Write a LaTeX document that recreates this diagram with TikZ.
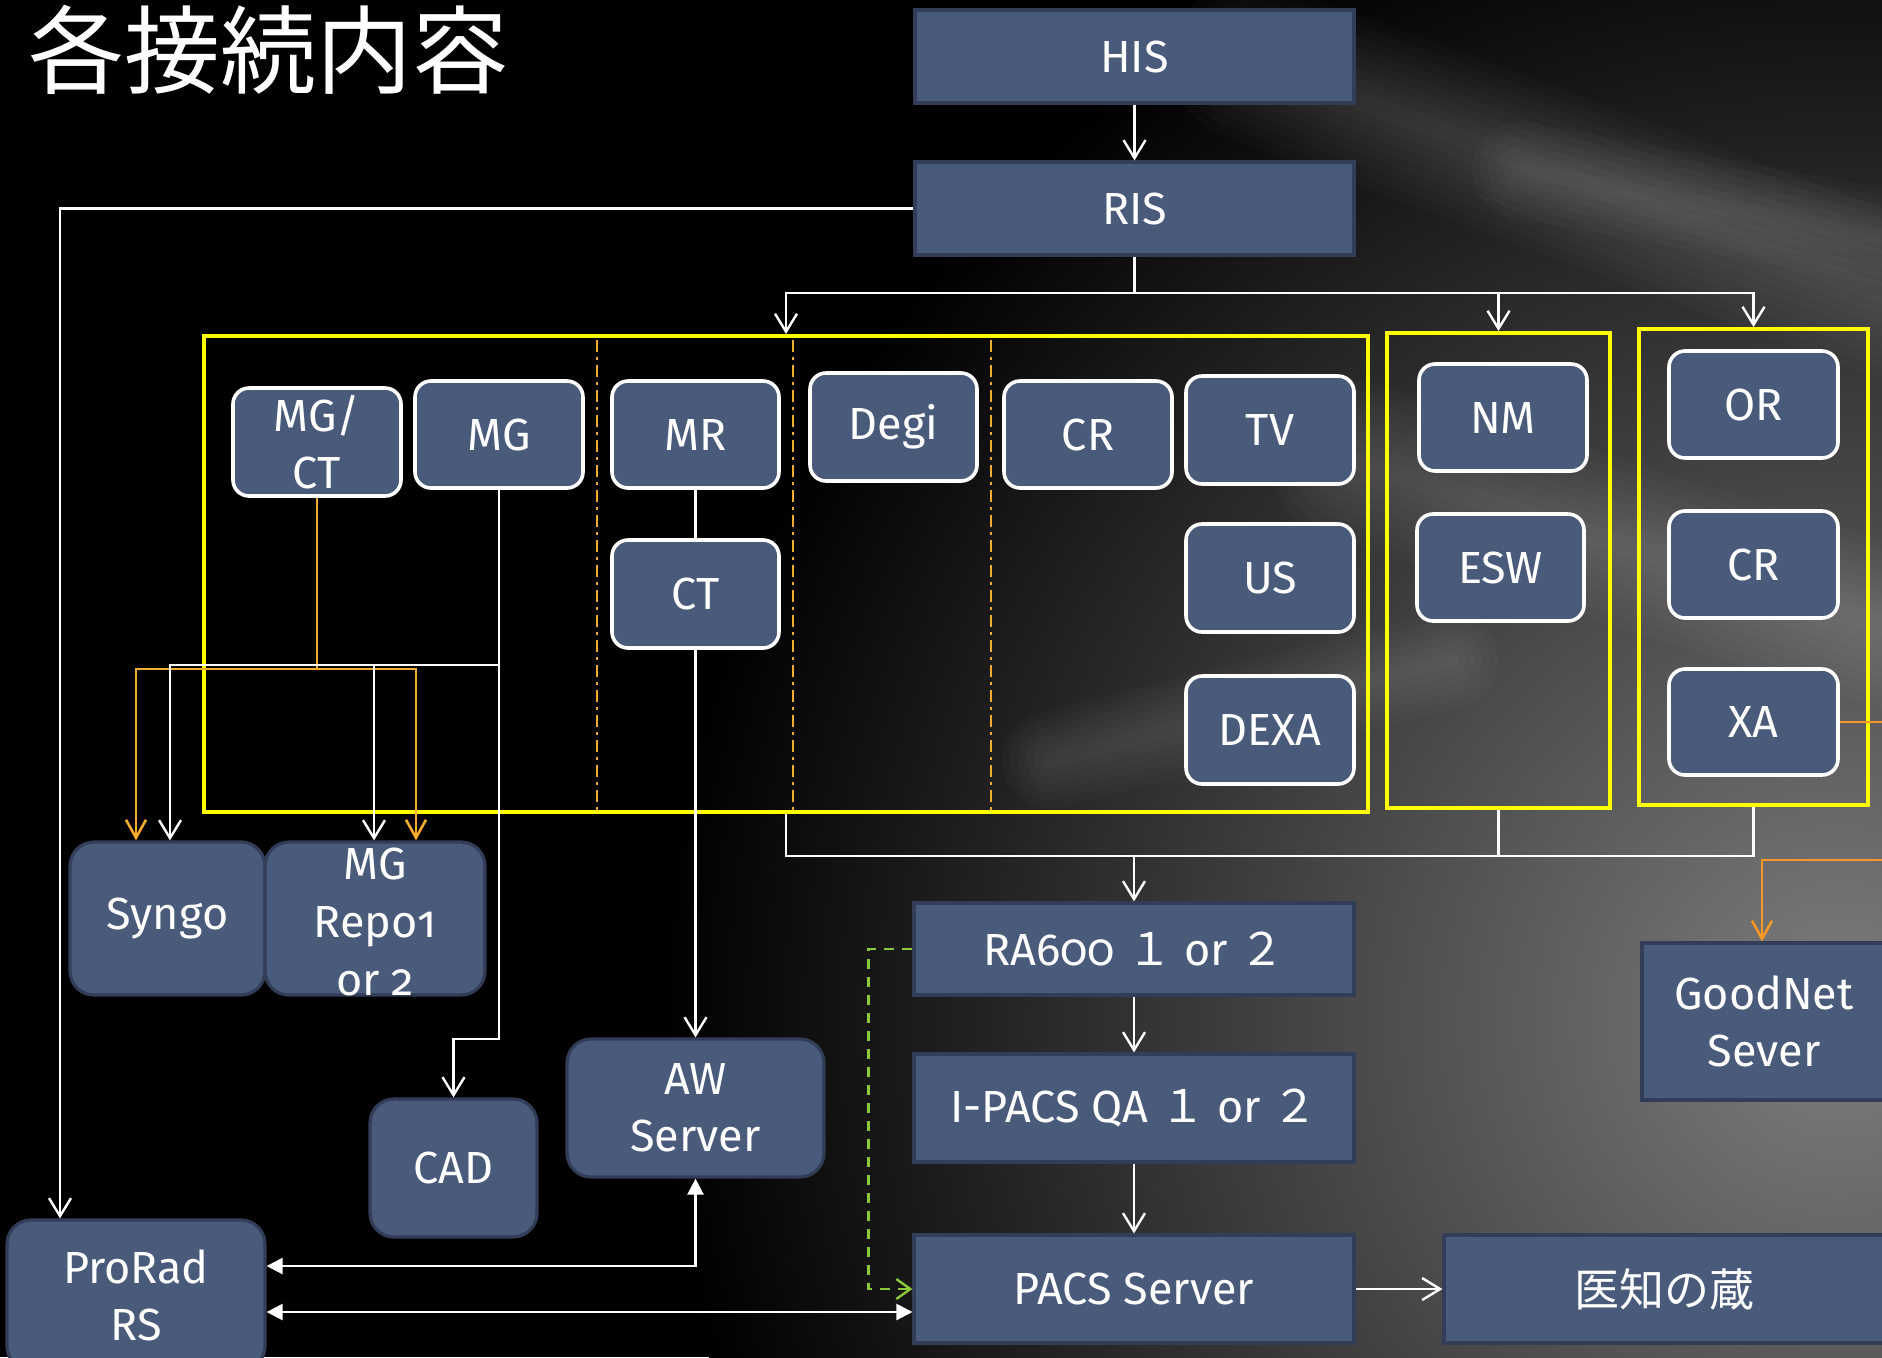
\documentclass[tikz,border=0pt]{standalone}
\usepackage{fontspec}
\setmainfont{Fira Sans}[Numbers=OldStyle]
\newfontfamily\cjk{Noto Sans CJK JP}
\usetikzlibrary{arrows.meta}
\definecolor{nfill}{RGB}{74,90,123}
\definecolor{nedge}{RGB}{50,62,88}
\definecolor{ylw}{RGB}{255,255,0}
\definecolor{orn}{RGB}{242,172,48}
\definecolor{orn2}{RGB}{246,152,38}
\definecolor{grn}{RGB}{140,200,60}
\definecolor{bgA}{RGB}{126,126,126}
\begin{document}
\begin{tikzpicture}[x=0.5pt,y=-0.5pt,
  lbl/.style={text=white, font=\fontsize{22.5}{28.5}\selectfont, align=center},
  sqbox/.style={lbl, draw=nedge, line width=1.6pt, fill=nfill, inner sep=0pt},
  rbox/.style={lbl, draw=white, line width=1.8pt, fill=nfill, rounded corners=8pt, inner sep=0pt},
  dbox/.style={lbl, draw=nedge, line width=1.6pt, fill=nfill, rounded corners=12pt, inner sep=0pt},
  grp/.style={draw=ylw, line width=2pt, inner sep=0pt},
  wline/.style={draw=white, line width=1.2pt},
  warr/.style={wline, -{Straight Barb[length=9pt,width=11pt]}},
  oline/.style={draw=orn, line width=1.3pt},
  oarr/.style={oline, -{Straight Barb[length=9pt,width=10pt]}},
  o2arr/.style={draw=orn2, line width=1.3pt, -{Straight Barb[length=9pt,width=10pt]}},
  garr/.style={draw=grn, line width=1.2pt, dash pattern=on 5pt off 4pt, -{Straight Barb[length=7pt,width=10pt]}},
  dbl/.style={wline, {Triangle[length=8pt,width=8pt]}-{Triangle[length=8pt,width=8pt]}},
  sep/.style={draw=orn, line width=0.9pt, dash pattern=on 6pt off 2.5pt on 1.5pt off 2.5pt},
  streak/.style={white, opacity=0.02, line cap=round}
]
\useasboundingbox (0,0) rectangle (1882,1357);
\clip (0,0) rectangle (1882,1357);
% background
\fill[black] (0,0) rectangle (1882,1357);
\shade[inner color=bgA, outer color=black] (1840,1020) circle (590pt);
\foreach \w in {10,20,...,80} {
  \draw[streak, line width=\w pt] (1250,60) -- (1900,300);
  \draw[streak, line width=\w pt] (1350,460) -- (1900,630);
}
\foreach \w in {8,16,...,48} {
  \draw[streak, line width=\w pt] (1520,170) -- (1900,240);
  \draw[streak, line width=\w pt] (1050,760) -- (1450,660);
}

% title
\node[anchor=west, inner sep=0pt, text=white, font=\cjk\fontsize{48}{48}\selectfont] (title) at (28,50) {各接続内容};

% group boxes
\node[grp, minimum width=582pt, minimum height=238pt] (g1) at (786,574) {};
\node[grp, minimum width=111.5pt, minimum height=237.5pt] (g2) at (1498.5,570.5) {};
\node[grp, minimum width=114.5pt, minimum height=238pt] (g3) at (1753.5,567) {};
\draw[sep] (597,340) -- (597,810);
\draw[sep] (793,340) -- (793,810);
\draw[sep] (991,340) -- (991,810);

% square nodes
\node[sqbox, minimum width=219.5pt, minimum height=46.5pt] (his) at (1134.5,56.5) {HIS};
\node[sqbox, minimum width=219.5pt, minimum height=46.5pt] (ris) at (1134.5,208.5) {RIS};
\node[sqbox, minimum width=220pt, minimum height=46pt] (ra) at (1134,949) {RA600 {\cjk １} or {\cjk ２}};
\node[sqbox, minimum width=220pt, minimum height=54pt] (ipacs) at (1134,1108) {I-PACS QA {\cjk １} or {\cjk ２}};
\node[sqbox, minimum width=220pt, minimum height=54pt] (pacs) at (1134,1289) {PACS Server};
\node[sqbox, minimum width=220pt, minimum height=54pt] (kura) at (1664,1289) {\cjk 医知の蔵};
\node[sqbox, minimum width=122pt, minimum height=78.5pt] (gn) at (1764,1021.5) {GoodNet\\Sever};

% modality nodes
\node[rbox, minimum width=84pt, minimum height=54pt] (mgct) at (317,442) {MG/\\CT};
\node[rbox, minimum width=84pt, minimum height=53.5pt] (mg) at (499,434.5) {MG};
\node[rbox, minimum width=83.5pt, minimum height=53.5pt] (mr) at (695.5,434.5) {MR};
\node[rbox, minimum width=83.5pt, minimum height=54pt] (ct) at (695.5,594) {CT};
\node[rbox, minimum width=83.5pt, minimum height=54pt] (degi) at (893.5,427) {Degi};
\node[rbox, minimum width=84pt, minimum height=53.5pt] (cra) at (1088,434.5) {CR};
\node[rbox, minimum width=84pt, minimum height=54pt] (tv) at (1270,430) {TV};
\node[rbox, minimum width=84pt, minimum height=54pt] (us) at (1270,578) {US};
\node[rbox, minimum width=84pt, minimum height=54pt] (dexa) at (1270,730) {DEXA};
\node[rbox, minimum width=84pt, minimum height=53.5pt] (nm) at (1503,417.5) {NM};
\node[rbox, minimum width=83.5pt, minimum height=53.5pt] (esw) at (1500.5,567.5) {ESW};
\node[rbox, minimum width=84.5pt, minimum height=53.5pt] (orn) at (1753.5,404.5) {OR};
\node[rbox, minimum width=84.5pt, minimum height=53.5pt] (crb) at (1753.5,564.5) {CR};
\node[rbox, minimum width=84.5pt, minimum height=53pt] (xa) at (1753.5,722) {XA};

% lower nodes
\node[dbox, minimum width=97.5pt, minimum height=76.5pt] (syngo) at (167.5,918.5) {Syngo};
\node[dbox, minimum width=110pt, minimum height=76.5pt] (mgrepo) at (375,918.5) {};
\node[lbl, inner sep=0pt, font=\fontsize{22.5}{29}\selectfont] (mgrepotxt) at (375,922) {MG\\Repo1\\or 2};
\node[dbox, minimum width=83.5pt, minimum height=69pt] (cad) at (453.5,1168) {CAD};
\node[dbox, minimum width=128.5pt, minimum height=69pt] (aw) at (695.5,1108) {AW\\Server};
\node[dbox, minimum width=129pt, minimum height=75pt] (prorad) at (136,1295) {ProRad\\RS};

% connectors from HIS / RIS
\draw[warr] (his) -- (ris);
\coordinate (j1) at (1134.5,293);
\draw[wline] (ris.south) -- (j1);
\draw[warr] (j1) -| (g1.north);
\draw[warr] (j1) -| (g2.north);
\draw[warr] (j1) -| (g3.north);
\draw[warr] (ris.west) -| ([xshift=-38pt]prorad.north);

% MG/CT (orange)
\coordinate (oj) at (317,669);
\draw[oline] (mgct.south) -- (oj);
\draw[oarr] (oj) -| ([xshift=-15.75pt]syngo.north);
\draw[oarr] (oj) -| ([xshift=20.5pt]mgrepo.north);

% MG (white)
\coordinate (wj) at (499,665);
\coordinate (wk) at (374,665);
\coordinate (wc) at (499,1039);
\draw[wline] (mg.south) -- (wj);
\draw[warr] (wj) -| ([xshift=1.25pt]syngo.north);
\draw[warr] (wk) -- (wk |- mgrepo.north);
\draw[warr] (wj) -- (wc) -| (cad.north);

% MR / CT
\draw[wline] (mr) -- (ct);
\draw[warr] (ct) -- (aw);

% groups to RA600
\coordinate (bj) at (1134,856);
\draw[wline] (g1.south) |- (bj);
\draw[wline] (g2.south) |- (bj);
\draw[wline] (g3.south) |- (bj);
\draw[warr] (bj) -- (ra);
\draw[warr] (ra) -- (ipacs);
\draw[warr] (ipacs) -- (pacs);
\draw[warr] (pacs) -- (kura);
\draw[garr] (ra.west) -- ++(-22pt,0) |- (pacs.west);

% ProRad links
\draw[dbl] ([yshift=14.5pt]prorad.east) -| (aw.south);
\draw[dbl] ([yshift=-8.5pt]prorad.east) -- ([yshift=-8.5pt]prorad.east -| pacs.west);

% XA to GoodNet
\coordinate (o1) at (1900,722);
\coordinate (o2) at (1900,860);
\draw[o2arr] (xa.east) -- (o1) -- (o2) -| ([xshift=-1pt]gn.north);
\end{tikzpicture}
\end{document}
